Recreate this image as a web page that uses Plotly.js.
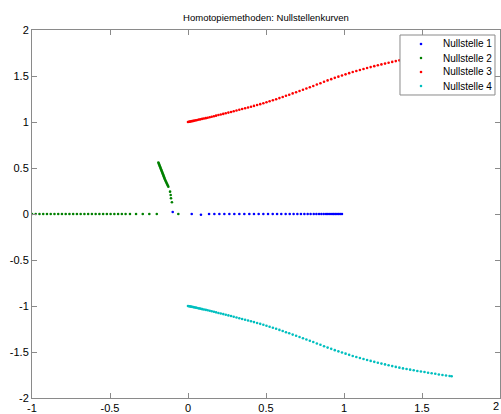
<!DOCTYPE html>
<html>
<head>
<meta charset="utf-8">
<script src="https://cdn.plot.ly/plotly-3.0.1.min.js"></script>
<style>html,body{margin:0;padding:0;background:#fff;}#chart{width:501px;height:414px;}</style>
</head>
<body>
<div id="chart"></div>
<script>
// Nullstelle 1 (blue)
const root1X = [-0.098, 0.024, 0.083, 0.135, 0.169, 0.201, 0.233, 0.265, 0.297, 0.329, 0.361, 0.393, 0.423, 0.453, 0.483, 0.513, 0.543, 0.571, 0.598, 0.626, 0.652, 0.677, 0.701, 0.724, 0.746, 0.767, 0.786, 0.806, 0.823, 0.840, 0.855, 0.870, 0.885, 0.897, 0.910, 0.923, 0.934, 0.944, 0.955, 0.966, 0.976, 0.987];
const root1Y = [0.022, 0, -0.008, 0, 0, 0, 0, 0, 0, 0, 0, 0, 0, 0, 0, 0, 0, 0, 0, 0, 0, 0, 0, 0, 0, 0, 0, 0, 0, 0, 0, 0, 0, 0, 0, 0, 0, 0, 0, 0, 0, 0];

// Nullstelle 2 (green): real-axis part, then the arc
const root2X = [-1.000, -0.976, -0.952, -0.928, -0.904, -0.880, -0.856, -0.832, -0.808, -0.784, -0.760, -0.736, -0.712, -0.688, -0.664, -0.640, -0.616, -0.592, -0.568, -0.544, -0.520, -0.496, -0.472, -0.448, -0.424, -0.400, -0.372, -0.333, -0.290, -0.248, -0.200, -0.062,
  -0.190, -0.187, -0.185, -0.182, -0.180, -0.177, -0.175, -0.172, -0.170, -0.167, -0.165, -0.162, -0.160, -0.157, -0.155, -0.152, -0.150, -0.147, -0.144, -0.141, -0.138, -0.135, -0.132, -0.129, -0.126,
  -0.115, -0.111, -0.109, -0.103];
const root2Y = [0, 0, 0, 0, 0, 0, 0, 0, 0, 0, 0, 0, 0, 0, 0, 0, 0, 0, 0, 0, 0, 0, 0, 0, 0, 0, 0, 0, 0, 0, 0, 0,
  0.560, 0.549, 0.538, 0.527, 0.516, 0.505, 0.494, 0.483, 0.472, 0.461, 0.450, 0.439, 0.428, 0.417, 0.406, 0.395, 0.384, 0.373, 0.362, 0.351, 0.340, 0.329, 0.318, 0.307, 0.297,
  0.243, 0.207, 0.171, 0.127];

// Nullstelle 3 (red) and Nullstelle 4 (cyan) share the same real parts
const pairX = [0, 0.006, 0.012, 0.019, 0.026, 0.034, 0.042, 0.051, 0.060, 0.070, 0.080, 0.091, 0.102, 0.114, 0.126, 0.139, 0.152, 0.166, 0.180, 0.195, 0.210, 0.226, 0.242, 0.259, 0.276, 0.293, 0.311, 0.329, 0.347, 0.366, 0.385, 0.404, 0.423, 0.443, 0.463, 0.483, 0.503, 0.523, 0.544, 0.565, 0.586, 0.607, 0.628, 0.649, 0.671, 0.693, 0.715, 0.737, 0.759, 0.781, 0.803, 0.826, 0.849, 0.872, 0.895, 0.918, 0.941, 0.964, 0.987, 1.010, 1.033, 1.056, 1.079, 1.102, 1.125, 1.148, 1.171, 1.194, 1.217, 1.240, 1.263, 1.286, 1.309, 1.332, 1.355, 1.378, 1.401, 1.424, 1.447, 1.470, 1.493, 1.516, 1.539, 1.562, 1.585, 1.608, 1.631, 1.654, 1.677, 1.690];
const root3Y = [1.000, 1.002, 1.004, 1.007, 1.009, 1.012, 1.015, 1.018, 1.022, 1.026, 1.029, 1.034, 1.038, 1.042, 1.047, 1.052, 1.057, 1.063, 1.069, 1.076, 1.082, 1.088, 1.095, 1.102, 1.109, 1.117, 1.125, 1.133, 1.141, 1.149, 1.157, 1.165, 1.175, 1.185, 1.194, 1.204, 1.214, 1.225, 1.237, 1.248, 1.260, 1.272, 1.285, 1.297, 1.311, 1.324, 1.337, 1.350, 1.364, 1.378, 1.392, 1.407, 1.421, 1.437, 1.452, 1.466, 1.480, 1.493, 1.506, 1.518, 1.531, 1.543, 1.554, 1.566, 1.576, 1.587, 1.597, 1.607, 1.617, 1.626, 1.635, 1.644, 1.653, 1.662, 1.670, 1.678, 1.685, 1.692, 1.699, 1.706, 1.712, 1.718, 1.725, 1.731, 1.737, 1.744, 1.750, 1.755, 1.761, 1.764];
const root4Y = [-1.000, -1.002, -1.004, -1.007, -1.009, -1.012, -1.015, -1.018, -1.022, -1.026, -1.029, -1.034, -1.038, -1.042, -1.047, -1.052, -1.057, -1.063, -1.069, -1.076, -1.082, -1.088, -1.095, -1.102, -1.109, -1.117, -1.125, -1.133, -1.141, -1.149, -1.157, -1.165, -1.175, -1.185, -1.194, -1.204, -1.214, -1.225, -1.237, -1.248, -1.260, -1.272, -1.285, -1.297, -1.311, -1.324, -1.337, -1.350, -1.364, -1.378, -1.392, -1.407, -1.421, -1.437, -1.452, -1.466, -1.480, -1.493, -1.506, -1.518, -1.531, -1.543, -1.554, -1.566, -1.576, -1.587, -1.597, -1.607, -1.617, -1.626, -1.635, -1.644, -1.653, -1.662, -1.670, -1.678, -1.685, -1.692, -1.699, -1.706, -1.712, -1.718, -1.725, -1.731, -1.737, -1.744, -1.750, -1.755, -1.761, -1.764];

const seriesNames = ['Nullstelle 1', 'Nullstelle 2', 'Nullstelle 3', 'Nullstelle 4'];
const seriesColors = ['#0000ff', '#008000', '#ff0000', '#00bfbf'];

const xTickVals = [-1, -0.5, 0, 0.5, 1, 1.5, 2];
const xTickText = ['-1', '-0.5', '0', '0.5', '1', '1.5', ''];
const xLastTickLabel = '2';
const yTickVals = [-2, -1.5, -1, -0.5, 0, 0.5, 1, 1.5, 2];
const yTickText = ['-2', '-1.5', '-1', '-0.5', '0', '0.5', '1', '1.5', '2'];

const xs = [root1X, root2X, pairX, pairX];
const ys = [root1Y, root2Y, root3Y, root4Y];

const FONT = 'Liberation Sans, Arial, sans-serif';

const traces = seriesNames.map((n, i) => ({
  type: 'scatter', mode: 'markers', name: n,
  x: xs[i], y: ys[i],
  marker: {color: seriesColors[i], size: 2.6, line: {width: 0}},
  showlegend: false
}));

// Legend box (MATLAB style), built in paper coordinates
const legBox = {x0: 0.7863, x1: 0.9893, y0: 0.8234, y1: 0.9864};
const legRowY = [0.9620, 0.9239, 0.8859, 0.8478];
const legMarkX = 0.8312, legTextX = 0.8739;

const shapes = [{
  type: 'rect', xref: 'paper', yref: 'paper', layer: 'above',
  x0: legBox.x0, x1: legBox.x1, y0: legBox.y0, y1: legBox.y1,
  fillcolor: '#ffffff', line: {color: '#8a8a8a', width: 1}
}];
const annotations = [];
seriesNames.forEach((n, i) => {
  shapes.push({
    type: 'circle', xref: 'paper', yref: 'paper', layer: 'above',
    xsizemode: 'pixel', ysizemode: 'pixel',
    xanchor: legMarkX, yanchor: legRowY[i],
    x0: -1.3, x1: 1.3, y0: -1.3, y1: 1.3,
    fillcolor: seriesColors[i], line: {width: 0}
  });
  annotations.push({
    xref: 'paper', yref: 'paper', x: legTextX, y: legRowY[i],
    xanchor: 'left', yanchor: 'middle', showarrow: false,
    text: n, font: {family: FONT, size: 10, color: '#000'}
  });
});
// last x tick label, kept fully inside the page
annotations.push({
  xref: 'x', yref: 'paper', x: 2, y: 0, xanchor: 'right', yanchor: 'top',
  yshift: -1, showarrow: false, borderpad: 0,
  text: xLastTickLabel, font: {family: FONT, size: 11, color: '#000'}
});

const axisCommon = {
  showgrid: false, zeroline: false, showline: true, mirror: 'ticks',
  linecolor: '#8a8a8a', linewidth: 1, ticks: 'inside', ticklen: 5,
  tickcolor: '#8a8a8a', tickwidth: 1, tickmode: 'array',
  tickfont: {family: FONT, size: 11, color: '#000'}
};

const layout = {
  width: 501, height: 414,
  margin: {l: 32, r: 1, t: 30, b: 16, pad: 0},
  paper_bgcolor: '#fff', plot_bgcolor: '#fff',
  font: {family: FONT, size: 11, color: '#000'},
  title: {text: 'Homotopiemethoden: Nullstellenkurven', x: 0.5, xref: 'paper', xanchor: 'center',
          y: 0.958, yref: 'container', yanchor: 'middle',
          font: {family: FONT, size: 9.5, color: '#000'}},
  xaxis: Object.assign({}, axisCommon, {range: [-1, 2], tickvals: xTickVals, ticktext: xTickText}),
  yaxis: Object.assign({}, axisCommon, {range: [-2, 2], tickvals: yTickVals, ticktext: yTickText}),
  showlegend: false,
  shapes: shapes,
  annotations: annotations
};

Plotly.newPlot('chart', traces, layout, {staticPlot: true, displayModeBar: false});
</script>
</body>
</html>
